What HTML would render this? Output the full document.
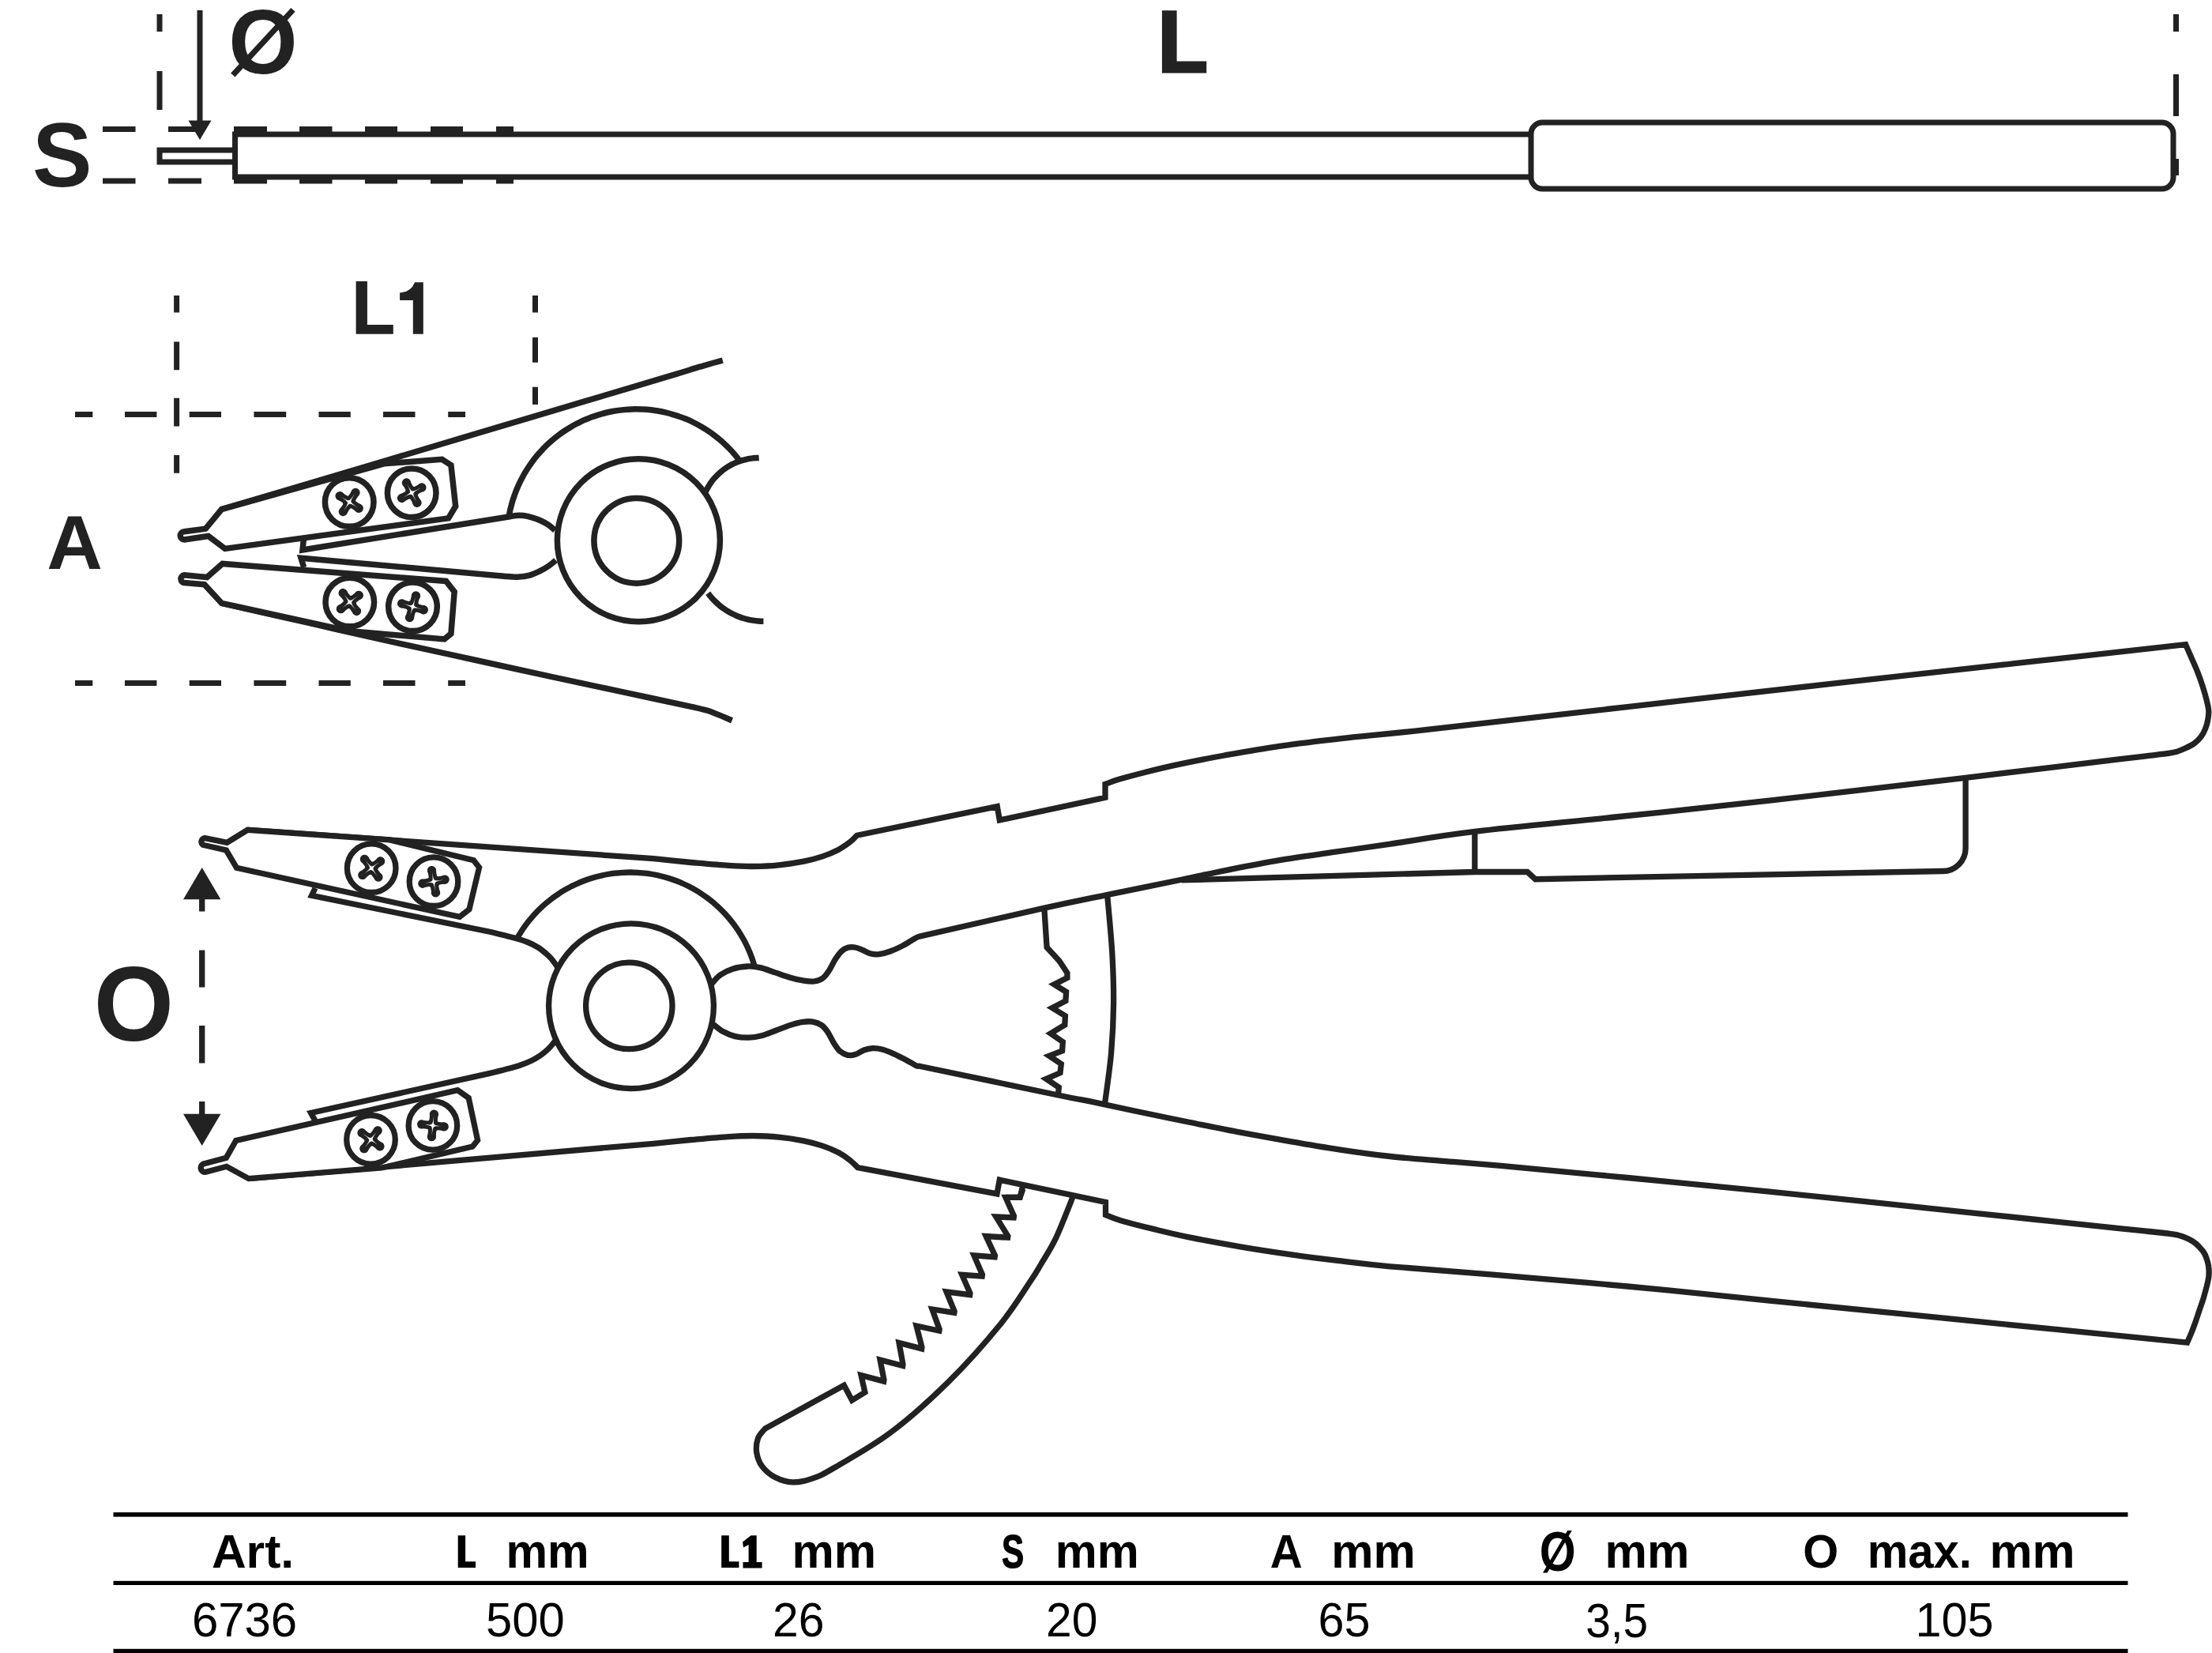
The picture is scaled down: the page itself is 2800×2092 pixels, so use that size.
<!DOCTYPE html>
<html>
<head>
<meta charset="utf-8">
<title>Circlip pliers 6736</title>
<style>
html,body{margin:0;padding:0;background:#fff;}
body{width:2800px;height:2092px;overflow:hidden;font-family:"Liberation Sans",sans-serif;}
svg{display:block;position:absolute;left:0;top:0;}
.ln{fill:none;stroke:#222;stroke-width:7;stroke-linejoin:round;stroke-linecap:butt;}
.lw{fill:#fff;stroke:#222;stroke-width:7;stroke-linejoin:round;}
</style>
</head>
<body>
<svg width="2800" height="2092" viewBox="0 0 2800 2092">
<rect x="0" y="0" width="2800" height="2092" fill="#fff"/>

<!-- ===== TOP VIEW (side profile) ===== -->
<g id="topview">
  <!-- dashed guides -->
  <path class="ln" d="M202 18V40M202 90V139"/>
  <path class="ln" d="M2754.5 18V40M2754.5 94V147M2754.5 201V222"/>
  <path class="ln" d="M130 163.6H171.5M213 163.6H255M296 163.6H338M379 163.6H420.5M462 163.6H503M545 163.6H586M628 163.6H650"/>
  <path class="ln" d="M130 229H171.5M213 229H255M296 229H338M379 229H420.5M462 229H503M545 229H586M628 229H650"/>
  <!-- arrow -->
  <path class="ln" d="M253 13V156"/>
  <path d="M238.5 152.5H267.5L253 177Z" fill="#222"/>
  <!-- pin -->
  <path class="ln" d="M296 190H202V205H296" style="stroke-linejoin:miter"/>
  <!-- bar -->
  <path class="ln" d="M1938 170H297.5V224H1938" style="stroke-linejoin:miter"/>
  <!-- handle -->
  <rect class="lw" x="1938" y="155" width="813" height="84" rx="14.5" ry="14.5"/>
  <!-- labels -->


</g>

<g id="detail" fill="none" stroke="#222" stroke-width="7.5" stroke-linejoin="miter">
<path d="M223.6 374V395.5M223.6 432.6V468.2M223.6 503.8V539.4M223.6 575.9V598.7" stroke-width="7"/>
<path d="M677.5 374V395.5M677.5 426.9V458.7M677.5 489.8V512" stroke-width="7"/>
<path d="M95 524.6H117.3M158 524.6H198.4M239.7 524.6H280M321.4 524.6H362.2M403.5 524.6H443.8M485 524.6H525.5M567.2 524.6H589" stroke-width="7"/>
<path d="M95 864.4H117.3M158 864.4H198.4M239.7 864.4H280M321.4 864.4H362.2M403.5 864.4H443.8M485 864.4H525.5M567.2 864.4H589" stroke-width="7"/>
<path d="M644.1 654.2 C644.4 652.7 645.2 648 645.9 644.9 C646.7 641.8 647.5 638.7 648.3 635.7 C649.2 632.6 650.2 629.6 651.3 626.6 C652.3 623.6 653.5 620.7 654.7 617.8 C655.9 614.8 657.3 612 658.7 609.1 C660.1 606.3 661.6 603.5 663.1 600.7 C664.7 598 666.3 595.2 668.1 592.6 C669.8 589.9 671.6 587.3 673.5 584.7 C675.3 582.2 677.3 579.7 679.3 577.2 C681.3 574.8 683.4 572.4 685.6 570.1 C687.7 567.8 689.9 565.5 692.2 563.3 C694.5 561.1 696.9 559 699.3 556.9 C701.7 554.9 704.2 552.9 706.7 551 C709.2 549.1 711.8 547.2 714.4 545.5 C717.1 543.7 719.8 542 722.5 540.4 C725.2 538.8 728 537.3 730.8 535.8 C733.7 534.4 736.5 533 739.4 531.7 C742.3 530.4 745.3 529.3 748.2 528.1 C751.2 527 754.2 526 757.2 525.1 C760.3 524.1 763.3 523.3 766.4 522.5 C769.5 521.8 772.6 521.1 775.7 520.5 C778.8 520 782 519.5 785.1 519.1 C788.2 518.7 791.4 518.4 794.6 518.2 C797.7 518 800.9 517.8 804.1 517.8 C807.2 517.8 810.4 517.8 813.6 518 C816.7 518.2 819.9 518.4 823.1 518.7 C826.2 519.1 829.4 519.5 832.5 520 C835.6 520.6 838.7 521.2 841.8 521.9 C844.9 522.6 848 523.4 851 524.3 C854.1 525.1 857.1 526.1 860.1 527.2 C863.1 528.2 866 529.4 869 530.6 C871.9 531.8 874.8 533.1 877.6 534.5 C880.5 535.9 883.3 537.4 886 539 C888.8 540.5 891.5 542.2 894.2 543.9 C896.8 545.6 899.4 547.4 902 549.3 C904.6 551.1 907.1 553.1 909.5 555.1 C912 557.1 914.4 559.2 916.7 561.4 C919 563.5 921.3 565.7 923.5 568 C925.7 570.3 927.8 572.6 929.9 575.1 C931.9 577.5 934.8 581.2 935.8 582.5"/>
<path d="M280.5 644.6 C307.1 636.7 386.8 613.1 440 597.3 C493.2 581.5 556.7 562.6 600 549.7 C643.3 536.8 666.7 529.7 700 519.8 C733.3 509.9 774 497.9 800 490.2 C826 482.5 841.7 477.7 856 473.4 C870.3 469.1 876.2 467.1 886 464.2 C895.8 461.3 905.8 458.3 914.8 456.1"/>
<path d="M384.3 683 L383 696 L644 654  C649.5 653.1 650.1 652.7 653.2 652.5 C656.3 652.3 659.2 652.2 662.7 652.6 C666.2 653 670.5 654.1 674 655.1 C677.5 656.1 680.2 657 683.5 658.5 C686.8 660 690.8 662.1 694 664.2 C697.2 666.3 701.1 669.9 702.5 671" fill="#fff"/>
<path d="M384.6 718 L381 706.2 L638 729.2  C644 729.7 649.7 730.4 655.1 730.2 C660.5 730 665.5 729.5 670.2 728.2 C674.9 727 679.4 724.7 683.5 722.7 C687.6 720.7 691.6 718.3 694.9 716 C698.2 713.7 702.1 710.2 703.5 709" fill="#fff"/>
<path d="M280.5 763.3 C298.8 767.4 353.4 779.9 390 788.2 C426.6 796.5 465 805.4 500 813.2 C535 821 566.7 827.7 600 835 C633.3 842.3 668.3 849.9 700 856.8 C731.7 863.7 760 869.8 790 876.2 C820 882.6 860.9 891.1 879.7 895.4 C898.5 899.7 895.2 899.2 903 902 C910.8 904.8 922.7 910.2 926.6 911.9"/>
<circle cx="808.4" cy="683.7" r="103" fill="#fff"/>
<circle cx="805.8" cy="684.3" r="53.9" fill="#fff"/>
<path d="M893.2 622.3 C893.7 621.2 895.3 618.1 896.5 616.1 C897.7 614.1 899 612.1 900.3 610.2 C901.7 608.3 903.2 606.5 904.7 604.7 C906.3 603 907.9 601.3 909.6 599.7 C911.3 598.1 913.1 596.6 915 595.1 C916.8 593.7 918.8 592.3 920.7 591.1 C922.7 589.8 924.7 588.7 926.8 587.6 C928.9 586.6 931.1 585.6 933.2 584.7 C935.4 583.9 937.6 583.1 939.9 582.5 C942.1 581.8 944.4 581.3 946.7 580.8 C949 580.4 951.4 580.1 953.7 579.8 C956 579.6 959.5 579.6 960.7 579.5"/>
<path d="M896.2 750.7 C896.9 751.6 899 754.3 900.5 756.1 C901.9 757.8 903.5 759.4 905.1 761 C906.7 762.6 908.4 764.1 910.1 765.6 C911.8 767.1 913.6 768.5 915.5 769.8 C917.3 771.1 919.2 772.4 921.1 773.5 C923.1 774.7 925.1 775.8 927.1 776.8 C929.1 777.9 931.2 778.8 933.3 779.7 C935.4 780.5 937.5 781.3 939.6 782 C941.8 782.7 944 783.3 946.2 783.8 C948.4 784.4 950.6 784.8 952.9 785.1 C955.1 785.5 957.4 785.8 959.6 785.9 C961.9 786.1 965.3 786.2 966.4 786.2"/>
<path d="M233.2 672.8 L260.3 669.1 L280.5 644.6 L486.1 586.8 L559.5 581.3 L570.9 588.6 L576.7 640.8 L567.6 655.9 L284.8 694.4 L263.8 678.5 L233.2 682.9 A5 5 0 0 1 233.2 672.8Z" fill="#fff"/>
<path d="M233.2 727.7 L262 730.6 L281.5 713.4 L564.6 735.4 L575.2 748.9 L570.9 802 L562.5 808.9 L440.5 798.5 L280.5 763.3 L258.7 739.7 L233.2 737.6 A5 5 0 0 1 233.2 727.7Z" fill="#fff"/>
<g transform="translate(442.2 635.5)"><circle r="30.8" fill="#fff" stroke="#222" stroke-width="7.5"/><g transform="rotate(33)"><path d="M-14.2 0H14.2M0 -14.2V14.2" stroke="#222" stroke-width="10.4" stroke-linecap="round" fill="none"/><path d="M-14.3 0h.01M14.3 0h.01M0 -14.3h.01M0 14.3h.01" stroke="#222" stroke-width="11.4" stroke-linecap="round" fill="none"/><circle r="8.3" fill="#222" stroke="none"/><path d="M-12.5 0C-6 -.25 -3 -.35 -1.6 -1.6C-.35 -3 -.25 -6 0 -12.5C.25 -6 .35 -3 1.6 -1.6C3 -.35 6 -.25 12.5 0C6 .25 3 .35 1.6 1.6C.35 3 .25 6 0 12.5C-.25 6 -.35 3 -1.6 1.6C-3 .35 -6 .25 -12.5 0Z" fill="#fff" stroke="none"/></g></g>
<g transform="translate(521.2 623.7)"><circle r="30.8" fill="#fff" stroke="#222" stroke-width="7.5"/><g transform="rotate(-28)"><path d="M-14.2 0H14.2M0 -14.2V14.2" stroke="#222" stroke-width="10.4" stroke-linecap="round" fill="none"/><path d="M-14.3 0h.01M14.3 0h.01M0 -14.3h.01M0 14.3h.01" stroke="#222" stroke-width="11.4" stroke-linecap="round" fill="none"/><circle r="8.3" fill="#222" stroke="none"/><path d="M-12.5 0C-6 -.25 -3 -.35 -1.6 -1.6C-.35 -3 -.25 -6 0 -12.5C.25 -6 .35 -3 1.6 -1.6C3 -.35 6 -.25 12.5 0C6 .25 3 .35 1.6 1.6C.35 3 .25 6 0 12.5C-.25 6 -.35 3 -1.6 1.6C-3 .35 -6 .25 -12.5 0Z" fill="#fff" stroke="none"/></g></g>
<g transform="translate(442.8 762)"><circle r="30.8" fill="#fff" stroke="#222" stroke-width="7.5"/><g transform="rotate(-37)"><path d="M-14.2 0H14.2M0 -14.2V14.2" stroke="#222" stroke-width="10.4" stroke-linecap="round" fill="none"/><path d="M-14.3 0h.01M14.3 0h.01M0 -14.3h.01M0 14.3h.01" stroke="#222" stroke-width="11.4" stroke-linecap="round" fill="none"/><circle r="8.3" fill="#222" stroke="none"/><path d="M-12.5 0C-6 -.25 -3 -.35 -1.6 -1.6C-.35 -3 -.25 -6 0 -12.5C.25 -6 .35 -3 1.6 -1.6C3 -.35 6 -.25 12.5 0C6 .25 3 .35 1.6 1.6C.35 3 .25 6 0 12.5C-.25 6 -.35 3 -1.6 1.6C-3 .35 -6 .25 -12.5 0Z" fill="#fff" stroke="none"/></g></g>
<g transform="translate(522.5 767.8)"><circle r="30.8" fill="#fff" stroke="#222" stroke-width="7.5"/><g transform="rotate(16)"><path d="M-14.2 0H14.2M0 -14.2V14.2" stroke="#222" stroke-width="10.4" stroke-linecap="round" fill="none"/><path d="M-14.3 0h.01M14.3 0h.01M0 -14.3h.01M0 14.3h.01" stroke="#222" stroke-width="11.4" stroke-linecap="round" fill="none"/><circle r="8.3" fill="#222" stroke="none"/><path d="M-12.5 0C-6 -.25 -3 -.35 -1.6 -1.6C-.35 -3 -.25 -6 0 -12.5C.25 -6 .35 -3 1.6 -1.6C3 -.35 6 -.25 12.5 0C6 .25 3 .35 1.6 1.6C.35 3 .25 6 0 12.5C-.25 6 -.35 3 -1.6 1.6C-3 .35 -6 .25 -12.5 0Z" fill="#fff" stroke="none"/></g></g>
</g>
<g id="main" fill="none" stroke="#222" stroke-width="7.3" stroke-linejoin="miter">
<path d="M255.7 1136V1153.5M255.7 1202.5V1249.6M255.7 1298V1345.6M255.7 1394V1412" stroke-width="7.3"/>
<path d="M232 1138.3H279.4L255.7 1098Z M232 1409.8H279.4L255.7 1450Z" fill="#222" stroke="none"/>
<path d="M1294.9 1504.6 L1291.1 1515.4 L1272.9 1515.4 L1283.5 1539.1 L1283.2 1540.9 L1260.8 1540 L1275.9 1564.4 L1275.6 1566.2 L1248.1 1564.6 L1259.5 1589 L1259.2 1590.8 L1232.9 1588.9 L1243.5 1613.3 L1243.2 1615.1 L1217.7 1613.4 L1228 1636.8 L1227.7 1638.6 L1198 1634.8 L1208.2 1659.6 L1207.9 1661.4 L1180 1657 L1189.2 1682.4 L1188.9 1684.2 L1160 1678 L1167 1705.1 L1166.7 1706.9 L1138 1699.5 L1143 1726.7 L1142.7 1728.5 L1114 1721 L1119 1746.3 L1118.7 1748.1 L1090 1740.5 L1094.9 1762 L1078.5 1772.2 L1068.4 1753.2 L968.4 1808.1  C966.9 1810.1 961.3 1815.3 959.5 1820.3 C957.7 1825.3 956.9 1832.1 957.7 1838 C958.6 1843.9 960.7 1850.4 964.6 1855.7 C968.5 1861 974.5 1866.2 981 1869.6 C987.5 1873 995.8 1875.7 1003.8 1875.9 C1011.8 1876.1 1020.2 1874.1 1029.1 1870.9 C1038 1867.8 1040.5 1866.7 1057 1857 C1073.5 1847.3 1104 1830.6 1127.8 1812.7 C1151.6 1794.8 1176.9 1772.2 1200 1749.4 C1223.1 1726.6 1249.2 1696.9 1266.5 1675.7 C1283.8 1654.5 1295.3 1634.9 1303.8 1622.3 C1312.3 1609.7 1312.2 1609.3 1317.7 1600 C1323.2 1590.7 1330.1 1580.6 1336.7 1566.6 C1343.3 1552.6 1353.3 1526.6 1357.5 1516 C1361.7 1505.4 1361.2 1505.2 1362 1503" fill="#fff" stroke-linejoin="miter"/>
<path d="M1321.8 1149 L1325.1 1198.9 L1340.8 1216.1 L1350.9 1231.3 L1350.9 1237.6 L1334.4 1245.9 L1349.6 1255.3 L1348.9 1266.7 L1331.9 1275.6 L1348.4 1285.7 L1347.8 1297.1 L1329.9 1308 L1345.3 1318.6 L1344.6 1330 L1328.1 1336.3 L1343.3 1346.5 L1342 1357.8 L1324.3 1365.4 L1340.3 1376.1 L1339.5 1386" stroke-linejoin="miter"/>
<path d="M1401.5 1131 C1402.5 1143.5 1406.5 1182.9 1407.8 1205.9 C1409.1 1228.9 1409.8 1248.1 1409.6 1269.2 C1409.4 1290.3 1408.4 1311.2 1406.6 1332.5 C1404.8 1353.8 1399.8 1386.2 1398.5 1397"/>
<path d="M1495.7 1113.9 L1866.8 1103.5 L1933.4 1103.5 L1943.5 1112.7 L2459 1102.5 A29 29 0 0 0 2488.1 1073.5 L2488.1 984"/>
<path d="M1866.8 1052.4V1103.5"/>
<path d="M313.4 1050.3 L827.5 1086.7 C843.3 1088.2 859.1 1090 874.9 1091.5 C890.8 1092.9 909.2 1094.6 922.4 1095.4 C935.6 1096.3 943.5 1096.6 954.1 1096.5 C964.6 1096.4 975.1 1096 985.7 1094.9 C996.2 1093.9 1008.1 1092 1017.3 1090.2 C1026.6 1088.3 1033.7 1086.4 1041.1 1083.9 C1048.5 1081.4 1055.8 1078.2 1061.6 1075.2 C1067.4 1072.1 1072.1 1068.6 1075.9 1065.7 C1079.7 1062.7 1083.1 1058.7 1084.6 1057.3 L1262.3 1020.6 L1265.3 1038 L1399 1009.4 L1399 992.4 C1402 991.4 1408.7 988.6 1417.2 986.1 C1425.7 983.6 1437.3 980.4 1450 977.2 C1462.7 974 1476.5 970.6 1493.2 967.1 C1509.9 963.6 1528.9 959.8 1550 956 C1571.1 952.2 1594.7 947.9 1619.7 944.3 C1644.7 940.7 1670 937.7 1700 934.3 C1730 930.9 1740 930.7 1800 924.1 C1860 917.5 1973.3 904.4 2060 894.6 C2146.7 884.8 2238.3 874.2 2320 865.1 C2401.7 856 2475.6 847.9 2550 839.7 C2624.4 831.5 2730.5 819.7 2766.6 815.7 C2767.8 818.6 2771.6 827.1 2774.2 832.9 C2776.7 838.7 2779.5 844.7 2781.8 850.6 C2784.1 856.5 2786.2 862.4 2788.1 868.4 C2790 874.3 2791.9 881 2793.2 886.1 C2794.4 891.1 2795.4 894.7 2795.7 898.7 C2796 902.7 2795.6 906.3 2794.9 910.1 C2794.3 913.9 2793.3 917.8 2791.9 921.5 C2790.5 925.2 2788.6 929 2786.3 932.2 C2784 935.3 2781.3 938.1 2778 940.5 C2774.7 943 2770.2 945.1 2766.6 946.8 C2763 948.6 2759.8 949.8 2756.5 950.9 C2753.1 951.9 2752.4 952.2 2746.3 953.2 C2740.3 954.1 2731.1 955.1 2720 956.4 C2708.9 957.7 2700 958.8 2680 961.2 C2660 963.6 2632 966.9 2600 970.8 C2568 974.6 2548.1 977.2 2488.1 984.3 C2428.1 991.4 2313 1005 2240 1013.2 C2167 1021.4 2112.2 1027 2050 1033.5 C1987.8 1040 1915.1 1046.6 1866.8 1052.4 C1818.5 1058.2 1789.5 1063.8 1760 1068.1 C1730.5 1072.4 1713.4 1074.8 1690 1078.2 C1666.6 1081.6 1642.2 1084.8 1619.7 1088.6 C1597.2 1092.4 1575.7 1096.7 1555 1100.8 C1534.3 1104.9 1521.2 1107.9 1495.7 1113.2 C1470.2 1118.5 1431.1 1126.4 1402 1132.4 C1372.9 1138.4 1360.1 1140.7 1321 1149.4 C1281.9 1158.1 1192.9 1178.6 1167.3 1184.4 C1162.7 1184.9 1162.7 1185.2 1158.5 1187.4 C1154.3 1189.6 1147.9 1194.1 1142.7 1196.9 C1137.4 1199.7 1131.8 1202.2 1126.8 1204 C1121.8 1205.8 1116.8 1207.2 1112.6 1207.7 C1108.4 1208.1 1104.9 1207.6 1101.5 1206.7 C1098.1 1205.8 1095.2 1203.7 1092 1202.4 C1088.9 1201.1 1085.7 1199.5 1082.5 1199 C1079.4 1198.4 1075.9 1198.4 1073 1199.3 C1070.1 1200.1 1067.8 1201.5 1065.1 1204 C1062.5 1206.5 1059.9 1210.2 1057.2 1214.3 C1054.6 1218.4 1051.9 1224.6 1049.3 1228.5 C1046.7 1232.5 1044.6 1235.8 1041.4 1238 C1038.2 1240.3 1034.3 1241.5 1030.3 1242 C1026.4 1242.5 1022.7 1242 1017.7 1241.2 C1012.6 1240.4 1006.3 1239 1000.3 1237.2 C994.2 1235.5 987.6 1233 981.3 1230.9 C974.9 1228.8 968.1 1225.9 962.3 1224.6 C956.5 1223.3 952.3 1222.7 946.5 1223 C940.7 1223.3 933.3 1224.3 927.5 1226.2 C921.7 1228 916 1231 911.6 1234.1 C907.3 1237.1 903.1 1242.7 901.4 1244.4 L704.7 1222.6  C703.7 1221.2 700.8 1216.7 698.5 1214 C696.2 1211.3 693.9 1209 690.9 1206.5 C687.9 1204 684.6 1201.2 680.8 1198.9 C677 1196.6 672.8 1194.4 668.1 1192.5 C663.5 1190.6 658.2 1189 652.9 1187.5 C647.6 1186 642 1184.6 636.5 1183.2 C631 1181.8 625.5 1180.6 620 1179.2 L394.5 1133.4 L399 1124" fill="#fff"/>
<path d="M314.7 1491.6 L827.5 1447.3 C843.3 1445.8 859.1 1444 874.9 1442.5 C890.8 1441.1 909.2 1439.4 922.4 1438.6 C935.6 1437.7 943.5 1437.4 954.1 1437.5 C964.6 1437.6 975.1 1438 985.7 1439.1 C996.2 1440.1 1008.1 1442 1017.3 1443.8 C1026.6 1445.7 1033.7 1447.6 1041.1 1450.1 C1048.5 1452.6 1055.8 1455.8 1061.6 1458.8 C1067.4 1461.9 1071.9 1465.2 1075.9 1468.3 C1079.9 1471.4 1084 1476 1085.6 1477.5 L1262 1510.9 L1265.3 1493.2 L1399.5 1521.5 L1399.5 1537.5 C1402.6 1538.7 1407.9 1541.4 1418 1544.4 C1428.1 1547.4 1445.2 1551.8 1460 1555.4 C1474.8 1559 1488.3 1562.4 1506.6 1566.1 C1524.9 1569.8 1548.9 1574.2 1570 1577.8 C1591.1 1581.4 1612.4 1584.6 1633.2 1587.6 C1654 1590.6 1673.9 1593.1 1695 1595.6 C1716.1 1598.1 1727.8 1599.9 1759.7 1602.8 C1791.6 1605.7 1836.2 1608.7 1886.3 1612.9 C1936.3 1617.1 2001 1622.5 2060 1628 C2118.9 1633.5 2166.7 1638.7 2240 1646.1 C2313.3 1653.5 2411.9 1663.3 2500 1672.2 C2588.1 1681.1 2723.8 1694.7 2768.6 1699.2 C2769.5 1697 2772.4 1690.5 2774.2 1686.1 C2775.9 1681.6 2777.6 1677.4 2779.2 1672.7 C2780.9 1667.9 2782.6 1662.5 2784.3 1657.5 C2786 1652.4 2787.9 1647.1 2789.4 1642.3 C2790.8 1637.4 2792.1 1632.6 2793.2 1628.4 C2794.2 1624.1 2795.2 1620.8 2795.7 1617 C2796.2 1613.2 2796.2 1608.9 2795.9 1605.6 C2795.7 1602.2 2795.3 1599.9 2794.4 1596.7 C2793.5 1593.5 2792.3 1589.6 2790.6 1586.6 C2788.9 1583.5 2786.7 1581 2784.3 1578.5 C2781.9 1575.9 2779.2 1573.4 2776.2 1571.4 C2773.2 1569.4 2769.9 1567.7 2766.6 1566.3 C2763.3 1564.9 2759.8 1563.9 2756.5 1563 C2753.1 1562.2 2752.4 1562 2746.3 1561.3 C2740.3 1560.5 2731.1 1559.7 2720 1558.5 C2708.9 1557.3 2700 1556.4 2680 1554.3 C2660 1552.2 2630 1549.1 2600 1545.9 C2570 1542.7 2560 1541.6 2500 1535.3 C2440 1529 2313.3 1515.6 2240 1508.1 C2166.7 1500.6 2116.7 1496 2060 1490.5 C2003.3 1485 1938.3 1478.9 1900 1475.4 C1861.7 1471.9 1853.4 1471.6 1830 1469.6 C1806.6 1467.6 1782.2 1466 1759.7 1463.5 C1737.2 1461 1716.1 1458 1695 1454.8 C1673.9 1451.6 1654 1448.2 1633.2 1444.6 C1612.4 1441 1591.1 1437.2 1570 1433.2 C1548.9 1429.2 1528.3 1424.9 1506.6 1420.5 C1484.9 1416.1 1461.1 1411.2 1440 1406.8 C1418.9 1402.4 1397 1397.4 1380 1393.9 C1363 1390.4 1373.9 1393.1 1338.2 1385.7 C1302.5 1378.3 1194.8 1355.7 1166.1 1349.7 C1161.4 1348.4 1163.2 1350.1 1160.1 1348.8 C1156.9 1347.5 1152.2 1344.2 1147.4 1341.7 C1142.7 1339.2 1136.6 1336 1131.6 1333.8 C1126.6 1331.5 1121.8 1329.4 1117.3 1328.2 C1112.9 1327 1108.6 1326.5 1104.7 1326.6 C1100.7 1326.8 1097.3 1327.7 1093.6 1329 C1089.9 1330.3 1086 1333.5 1082.5 1334.6 C1079.1 1335.6 1076.2 1336 1073 1335.3 C1069.9 1334.7 1066.4 1333.1 1063.5 1330.6 C1060.6 1328.1 1058.3 1324.4 1055.6 1320.3 C1053 1316.2 1050.4 1309.9 1047.7 1306.1 C1045.1 1302.3 1043 1299.5 1039.8 1297.4 C1036.6 1295.2 1032.7 1293.8 1028.7 1293.1 C1024.8 1292.4 1020.8 1292.7 1016.1 1293.4 C1011.3 1294.1 1006.1 1295.5 1000.3 1297.4 C994.5 1299.2 987.3 1302.3 981.3 1304.5 C975.2 1306.7 969.4 1309.4 963.9 1310.8 C958.3 1312.3 953.6 1313.1 948 1313.2 C942.5 1313.3 936.2 1312.9 930.6 1311.6 C925.1 1310.3 919.6 1307.9 914.8 1305.3 C910.1 1302.6 904.3 1297.4 902.2 1295.8 L703.3 1316.8  C702.9 1317.3 702.6 1317.7 701 1319.6 C699.4 1321.5 696.4 1325.4 693.4 1328.2 C690.4 1331 686.9 1333.9 683.3 1336.3 C679.7 1338.7 676.1 1340.8 671.9 1342.8 C667.7 1344.8 663.3 1346.5 658 1348.2 C652.7 1350 646.6 1351.6 640.3 1353.3 C634 1355 626.7 1356.8 620 1358.4 L393.5 1408.4 L399 1418.5" fill="#fff"/>
<path d="M1294.9 1500 L1291.1 1515.4 L1272.9 1515.4" />
<path d="M655 1186.8 C655.8 1185.4 658.3 1181.3 660 1178.6 C661.7 1175.9 663.6 1173.3 665.5 1170.7 C667.4 1168.1 669.3 1165.6 671.4 1163.2 C673.4 1160.7 675.5 1158.3 677.7 1156 C679.9 1153.6 682.2 1151.4 684.5 1149.2 C686.8 1147 689.2 1144.8 691.6 1142.8 C694.1 1140.7 696.6 1138.7 699.1 1136.8 C701.7 1134.9 704.3 1133 707 1131.3 C709.6 1129.5 712.3 1127.8 715.1 1126.2 C717.9 1124.6 720.7 1123.1 723.5 1121.6 C726.4 1120.2 729.3 1118.8 732.2 1117.6 C735.1 1116.3 738.1 1115.1 741.1 1114 C744.1 1112.9 747.2 1111.9 750.2 1111 C753.3 1110 756.4 1109.2 759.5 1108.5 C762.6 1107.7 765.7 1107.1 768.9 1106.5 C772 1106 775.2 1105.5 778.3 1105.1 C781.5 1104.7 784.7 1104.5 787.9 1104.3 C791.1 1104.1 794.3 1104 797.5 1104 C800.7 1104 803.9 1104.1 807.1 1104.3 C810.3 1104.5 813.5 1104.7 816.6 1105.1 C819.8 1105.5 823 1106 826.1 1106.5 C829.3 1107.1 832.4 1107.7 835.5 1108.5 C838.6 1109.2 841.7 1110 844.8 1111 C847.8 1111.9 850.9 1112.9 853.9 1114 C856.9 1115.1 859.8 1116.3 862.8 1117.5 C865.7 1118.8 868.6 1120.2 871.4 1121.6 C874.3 1123.1 877.1 1124.6 879.9 1126.2 C882.6 1127.8 885.4 1129.5 888 1131.2 C890.7 1133 893.3 1134.9 895.9 1136.8 C898.4 1138.7 900.9 1140.7 903.4 1142.7 C905.8 1144.8 908.2 1146.9 910.5 1149.1 C912.8 1151.3 915.1 1153.6 917.3 1156 C919.4 1158.3 921.6 1160.7 923.6 1163.1 C925.6 1165.6 927.6 1168.1 929.5 1170.7 C931.4 1173.3 933.2 1175.9 935 1178.6 C936.7 1181.3 938.4 1184 940 1186.8 C941.6 1189.5 943.1 1192.4 944.5 1195.2 C945.9 1198.1 947.2 1201 948.5 1203.9 C949.7 1206.9 950.9 1209.9 952 1212.9 C953 1215.9 954.4 1220.5 954.9 1222"/>
<circle cx="799" cy="1273.2" r="104.4" fill="#fff"/>
<circle cx="796.3" cy="1272.9" r="54.7" fill="#fff"/>
<path d="M259.2 1060.6 L287.3 1066.3 L313.4 1050.3 L493.2 1062.9 L599.5 1088.7 L606.6 1097.8 L593.9 1151 L581.8 1160.4 L299.5 1098.4 L286.3 1075.9 L256.7 1069.2 A4.9 4.9 0 0 1 259.2 1060.6Z" fill="#fff"/>
<path d="M258.5 1472.7 L286.3 1465.4 L298.7 1443.5 L579.2 1379.7 L593.2 1389.4 L604.6 1443 L598.2 1451.1 L483 1478 L314.7 1491.6 L286.8 1476.3 L260.5 1483.2 A4.9 4.9 0 0 1 258.5 1472.7Z" fill="#fff"/>
<g transform="translate(470.2 1098.7)"><circle r="30.8" fill="#fff" stroke="#222" stroke-width="7.3"/><g transform="rotate(-37.5)"><path d="M-14.2 0H14.2M0 -14.2V14.2" stroke="#222" stroke-width="10.4" stroke-linecap="round" fill="none"/><path d="M-14.3 0h.01M14.3 0h.01M0 -14.3h.01M0 14.3h.01" stroke="#222" stroke-width="11.4" stroke-linecap="round" fill="none"/><circle r="8.3" fill="#222" stroke="none"/><path d="M-12.5 0C-6 -.25 -3 -.35 -1.6 -1.6C-.35 -3 -.25 -6 0 -12.5C.25 -6 .35 -3 1.6 -1.6C3 -.35 6 -.25 12.5 0C6 .25 3 .35 1.6 1.6C.35 3 .25 6 0 12.5C-.25 6 -.35 3 -1.6 1.6C-3 .35 -6 .25 -12.5 0Z" fill="#fff" stroke="none"/></g></g>
<g transform="translate(549 1115.7)"><circle r="30.8" fill="#fff" stroke="#222" stroke-width="7.3"/><g transform="rotate(-10)"><path d="M-14.2 0H14.2M0 -14.2V14.2" stroke="#222" stroke-width="10.4" stroke-linecap="round" fill="none"/><path d="M-14.3 0h.01M14.3 0h.01M0 -14.3h.01M0 14.3h.01" stroke="#222" stroke-width="11.4" stroke-linecap="round" fill="none"/><circle r="8.3" fill="#222" stroke="none"/><path d="M-12.5 0C-6 -.25 -3 -.35 -1.6 -1.6C-.35 -3 -.25 -6 0 -12.5C.25 -6 .35 -3 1.6 -1.6C3 -.35 6 -.25 12.5 0C6 .25 3 .35 1.6 1.6C.35 3 .25 6 0 12.5C-.25 6 -.35 3 -1.6 1.6C-3 .35 -6 .25 -12.5 0Z" fill="#fff" stroke="none"/></g></g>
<g transform="translate(469.5 1442.3)"><circle r="30.8" fill="#fff" stroke="#222" stroke-width="7.3"/><g transform="rotate(-53)"><path d="M-14.2 0H14.2M0 -14.2V14.2" stroke="#222" stroke-width="10.4" stroke-linecap="round" fill="none"/><path d="M-14.3 0h.01M14.3 0h.01M0 -14.3h.01M0 14.3h.01" stroke="#222" stroke-width="11.4" stroke-linecap="round" fill="none"/><circle r="8.3" fill="#222" stroke="none"/><path d="M-12.5 0C-6 -.25 -3 -.35 -1.6 -1.6C-.35 -3 -.25 -6 0 -12.5C.25 -6 .35 -3 1.6 -1.6C3 -.35 6 -.25 12.5 0C6 .25 3 .35 1.6 1.6C.35 3 .25 6 0 12.5C-.25 6 -.35 3 -1.6 1.6C-3 .35 -6 .25 -12.5 0Z" fill="#fff" stroke="none"/></g></g>
<g transform="translate(547.9 1424.4)"><circle r="30.8" fill="#fff" stroke="#222" stroke-width="7.3"/><g transform="rotate(6)"><path d="M-14.2 0H14.2M0 -14.2V14.2" stroke="#222" stroke-width="10.4" stroke-linecap="round" fill="none"/><path d="M-14.3 0h.01M14.3 0h.01M0 -14.3h.01M0 14.3h.01" stroke="#222" stroke-width="11.4" stroke-linecap="round" fill="none"/><circle r="8.3" fill="#222" stroke="none"/><path d="M-12.5 0C-6 -.25 -3 -.35 -1.6 -1.6C-.35 -3 -.25 -6 0 -12.5C.25 -6 .35 -3 1.6 -1.6C3 -.35 6 -.25 12.5 0C6 .25 3 .35 1.6 1.6C.35 3 .25 6 0 12.5C-.25 6 -.35 3 -1.6 1.6C-3 .35 -6 .25 -12.5 0Z" fill="#fff" stroke="none"/></g></g>
</g>
<text transform="translate(40.90 235.85) scale(1.1333 1.1549)" font-family="Liberation Sans, sans-serif" font-weight="bold" font-size="100" fill="#222">S</text>
<text transform="translate(59.26 719.70) scale(0.9776 0.9623)" font-family="Liberation Sans, sans-serif" font-weight="bold" font-size="100" fill="#222">A</text>
<text transform="translate(118.69 1316.77) scale(1.3022 1.3296)" font-family="Liberation Sans, sans-serif" font-weight="bold" font-size="100" fill="#222">O</text>
<text transform="translate(289.21 93.15) scale(1.1237 1.1493)" font-family="Liberation Sans, sans-serif" font-weight="bold" font-size="100" fill="#222">O</text>
<path d="M294.8 95 L371 12.4" stroke="#222" stroke-width="7.2" fill="none"/>
<path d="M1470.9 13.3H1489.6V77.5H1527.2V92.4H1470.9Z" fill="#222"/>
<path d="M450.6 356H464.9V411H497.8V422.7H450.6Z" fill="#222"/>
<path d="M535.8 357.2V422.7H522.8V380H506.1V370.5Q520 369.9 525.1 357.2Z" fill="#222"/>

<!-- ===== TABLE ===== -->
<g id="table">
  <rect x="143.5" y="1914" width="2550" height="5.6" fill="#000"/>
  <rect x="143.5" y="2000.8" width="2550" height="5.2" fill="#000"/>
  <rect x="143.5" y="2086.8" width="2550" height="6" fill="#000"/>
<text transform="translate(267.89 1983.81) scale(0.6055 0.5871)" font-family="Liberation Sans, sans-serif" font-weight="bold" font-size="100" fill="#000">Art.</text>
<path d="M579.7 1943.3h9.4v33h12.9v7.6h-22.3Z" fill="#000"/>
<text transform="translate(640.46 1983.80) scale(0.5915 0.6019)" font-family="Liberation Sans, sans-serif" font-weight="bold" font-size="100" fill="#000">mm</text>
<path d="M913.2 1943.3h9.6v33h12.6v7.6h-22.2Z" fill="#000"/>
<path d="M957.7 1943.2V1976.9H964.6V1984.5H940.5V1976.9H947.6V1954.9L941 1958.4L940 1951.6L950.6 1943.2Z" fill="#000"/>
<text transform="translate(1002.40 1983.80) scale(0.5994 0.6019)" font-family="Liberation Sans, sans-serif" font-weight="bold" font-size="100" fill="#000">mm</text>
<text stroke="#000" stroke-width="2" stroke-linejoin="round" transform="translate(1268.03 1984.00) scale(0.4217 0.5986)" font-family="Liberation Sans, sans-serif" font-weight="bold" font-size="100" fill="#000">S</text>
<text transform="translate(1335.72 1983.80) scale(0.5964 0.6019)" font-family="Liberation Sans, sans-serif" font-weight="bold" font-size="100" fill="#000">mm</text>
<text transform="translate(1607.78 1983.80) scale(0.5672 0.5870)" font-family="Liberation Sans, sans-serif" font-weight="bold" font-size="100" fill="#000">A</text>
<text transform="translate(1685.31 1983.80) scale(0.5988 0.6019)" font-family="Liberation Sans, sans-serif" font-weight="bold" font-size="100" fill="#000">mm</text>
<text transform="translate(1948.64 1987.57) scale(0.5899 0.6954)" font-family="Liberation Sans, sans-serif" font-weight="bold" font-size="100" fill="#000">Ø</text>
<text transform="translate(2031.50 1983.80) scale(0.6006 0.6019)" font-family="Liberation Sans, sans-serif" font-weight="bold" font-size="100" fill="#000">mm</text>
<text transform="translate(2282.19 1983.81) scale(0.5784 0.5873)" font-family="Liberation Sans, sans-serif" font-weight="bold" font-size="100" fill="#000">O</text>
<text transform="translate(2363.63 1983.80) scale(0.5800 0.6018)" font-family="Liberation Sans, sans-serif" font-weight="bold" font-size="100" fill="#000">max.</text>
<text transform="translate(2518.55 1983.80) scale(0.6079 0.6019)" font-family="Liberation Sans, sans-serif" font-weight="bold" font-size="100" fill="#000">mm</text>
<text transform="translate(242.90 2070.60) scale(0.5991 0.6028)" font-family="Liberation Sans, sans-serif" font-weight="normal" font-size="100" fill="#000">6736</text>
<text transform="translate(614.91 2070.60) scale(0.5987 0.6028)" font-family="Liberation Sans, sans-serif" font-weight="normal" font-size="100" fill="#000">500</text>
<text transform="translate(978.06 2070.60) scale(0.5882 0.6028)" font-family="Liberation Sans, sans-serif" font-weight="normal" font-size="100" fill="#000">26</text>
<text transform="translate(1324.06 2070.60) scale(0.5883 0.6028)" font-family="Liberation Sans, sans-serif" font-weight="normal" font-size="100" fill="#000">20</text>
<text transform="translate(1668.53 2070.60) scale(0.5931 0.6028)" font-family="Liberation Sans, sans-serif" font-weight="normal" font-size="100" fill="#000">65</text>
<text transform="translate(2007.23 2071.50) scale(0.5679 0.6158)" font-family="Liberation Sans, sans-serif" font-weight="normal" font-size="100" fill="#000">3,5</text>
<text transform="translate(2424.55 2070.60) scale(0.5935 0.6028)" font-family="Liberation Sans, sans-serif" font-weight="normal" font-size="100" fill="#000">105</text>
</g>
</svg>
</body>
</html>
